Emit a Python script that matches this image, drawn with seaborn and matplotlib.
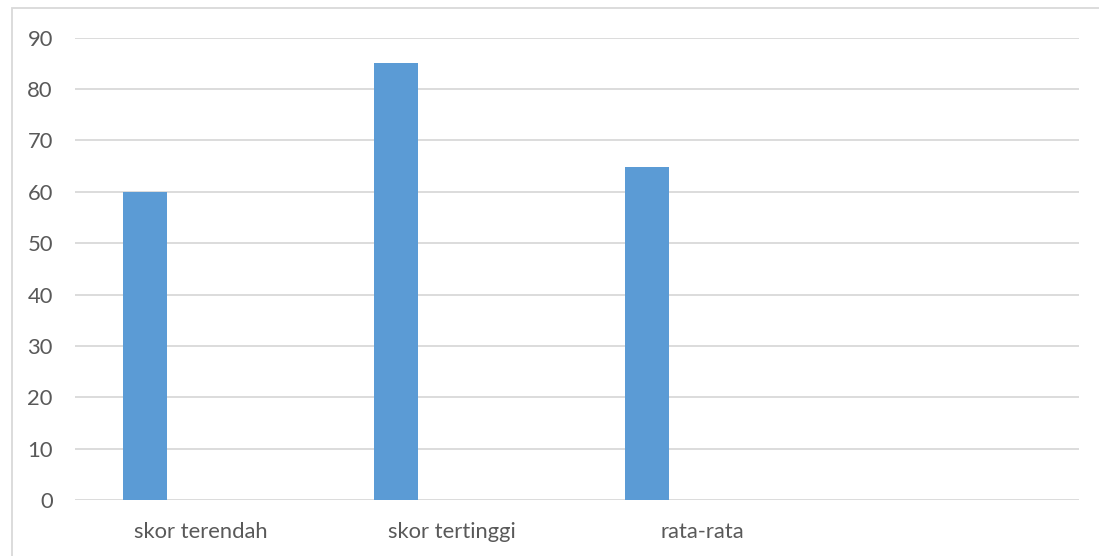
import matplotlib
matplotlib.use("Agg")
import matplotlib.pyplot as plt
import seaborn as sns
import pandas as pd
from matplotlib.patches import Rectangle

# Data
categories = ["skor terendah", "skor tertinggi", "rata-rata"]
scores = [60, 85, 64.8]
slots = categories + [""]          # fourth, empty category slot
y_ticks = list(range(0, 100, 10))

df = pd.DataFrame({"kategori": categories, "skor": scores})

sns.set_theme(style="white")
plt.rcParams["font.family"] = ["Lato", "DejaVu Sans"]

W, H = 1099, 556
fig = plt.figure(figsize=(W / 100, H / 100), dpi=100)
ax = fig.add_axes([75 / W, 56 / H, (1078.7 - 75) / W, (500 - 37.7) / H])

sns.barplot(data=df, x="kategori", y="skor", order=slots, color="#5B9BD5",
            width=0.175, saturation=1, ax=ax, errorbar=None)

# bars sit left of the category centre
for p in ax.patches:
    p.set_x(p.get_x() - 0.221)
    p.set_linewidth(0)

ax.set_xlim(-0.5, len(slots) - 0.5)
ax.set_ylim(0, 90)
ax.set_yticks(y_ticks)
ax.set_axisbelow(True)
ax.yaxis.grid(True, color="#D9D9D9", linewidth=1.3)
ax.xaxis.grid(False)
for s in ax.spines.values():
    s.set_visible(False)
ax.set_xlabel("")
ax.set_ylabel("")
ax.tick_params(axis="both", length=0, labelsize=15.8, labelcolor="#595959")
ax.tick_params(axis="y", pad=16)
ax.tick_params(axis="x", pad=16)

# outer chart-area border
fig.patches.append(Rectangle((12 / W, -0.05), 1.2, (H - 8) / H + 0.05,
                             transform=fig.transFigure, fill=False,
                             edgecolor="#D9D9D9", linewidth=1.3))

fig.savefig("out.png", dpi=100)
